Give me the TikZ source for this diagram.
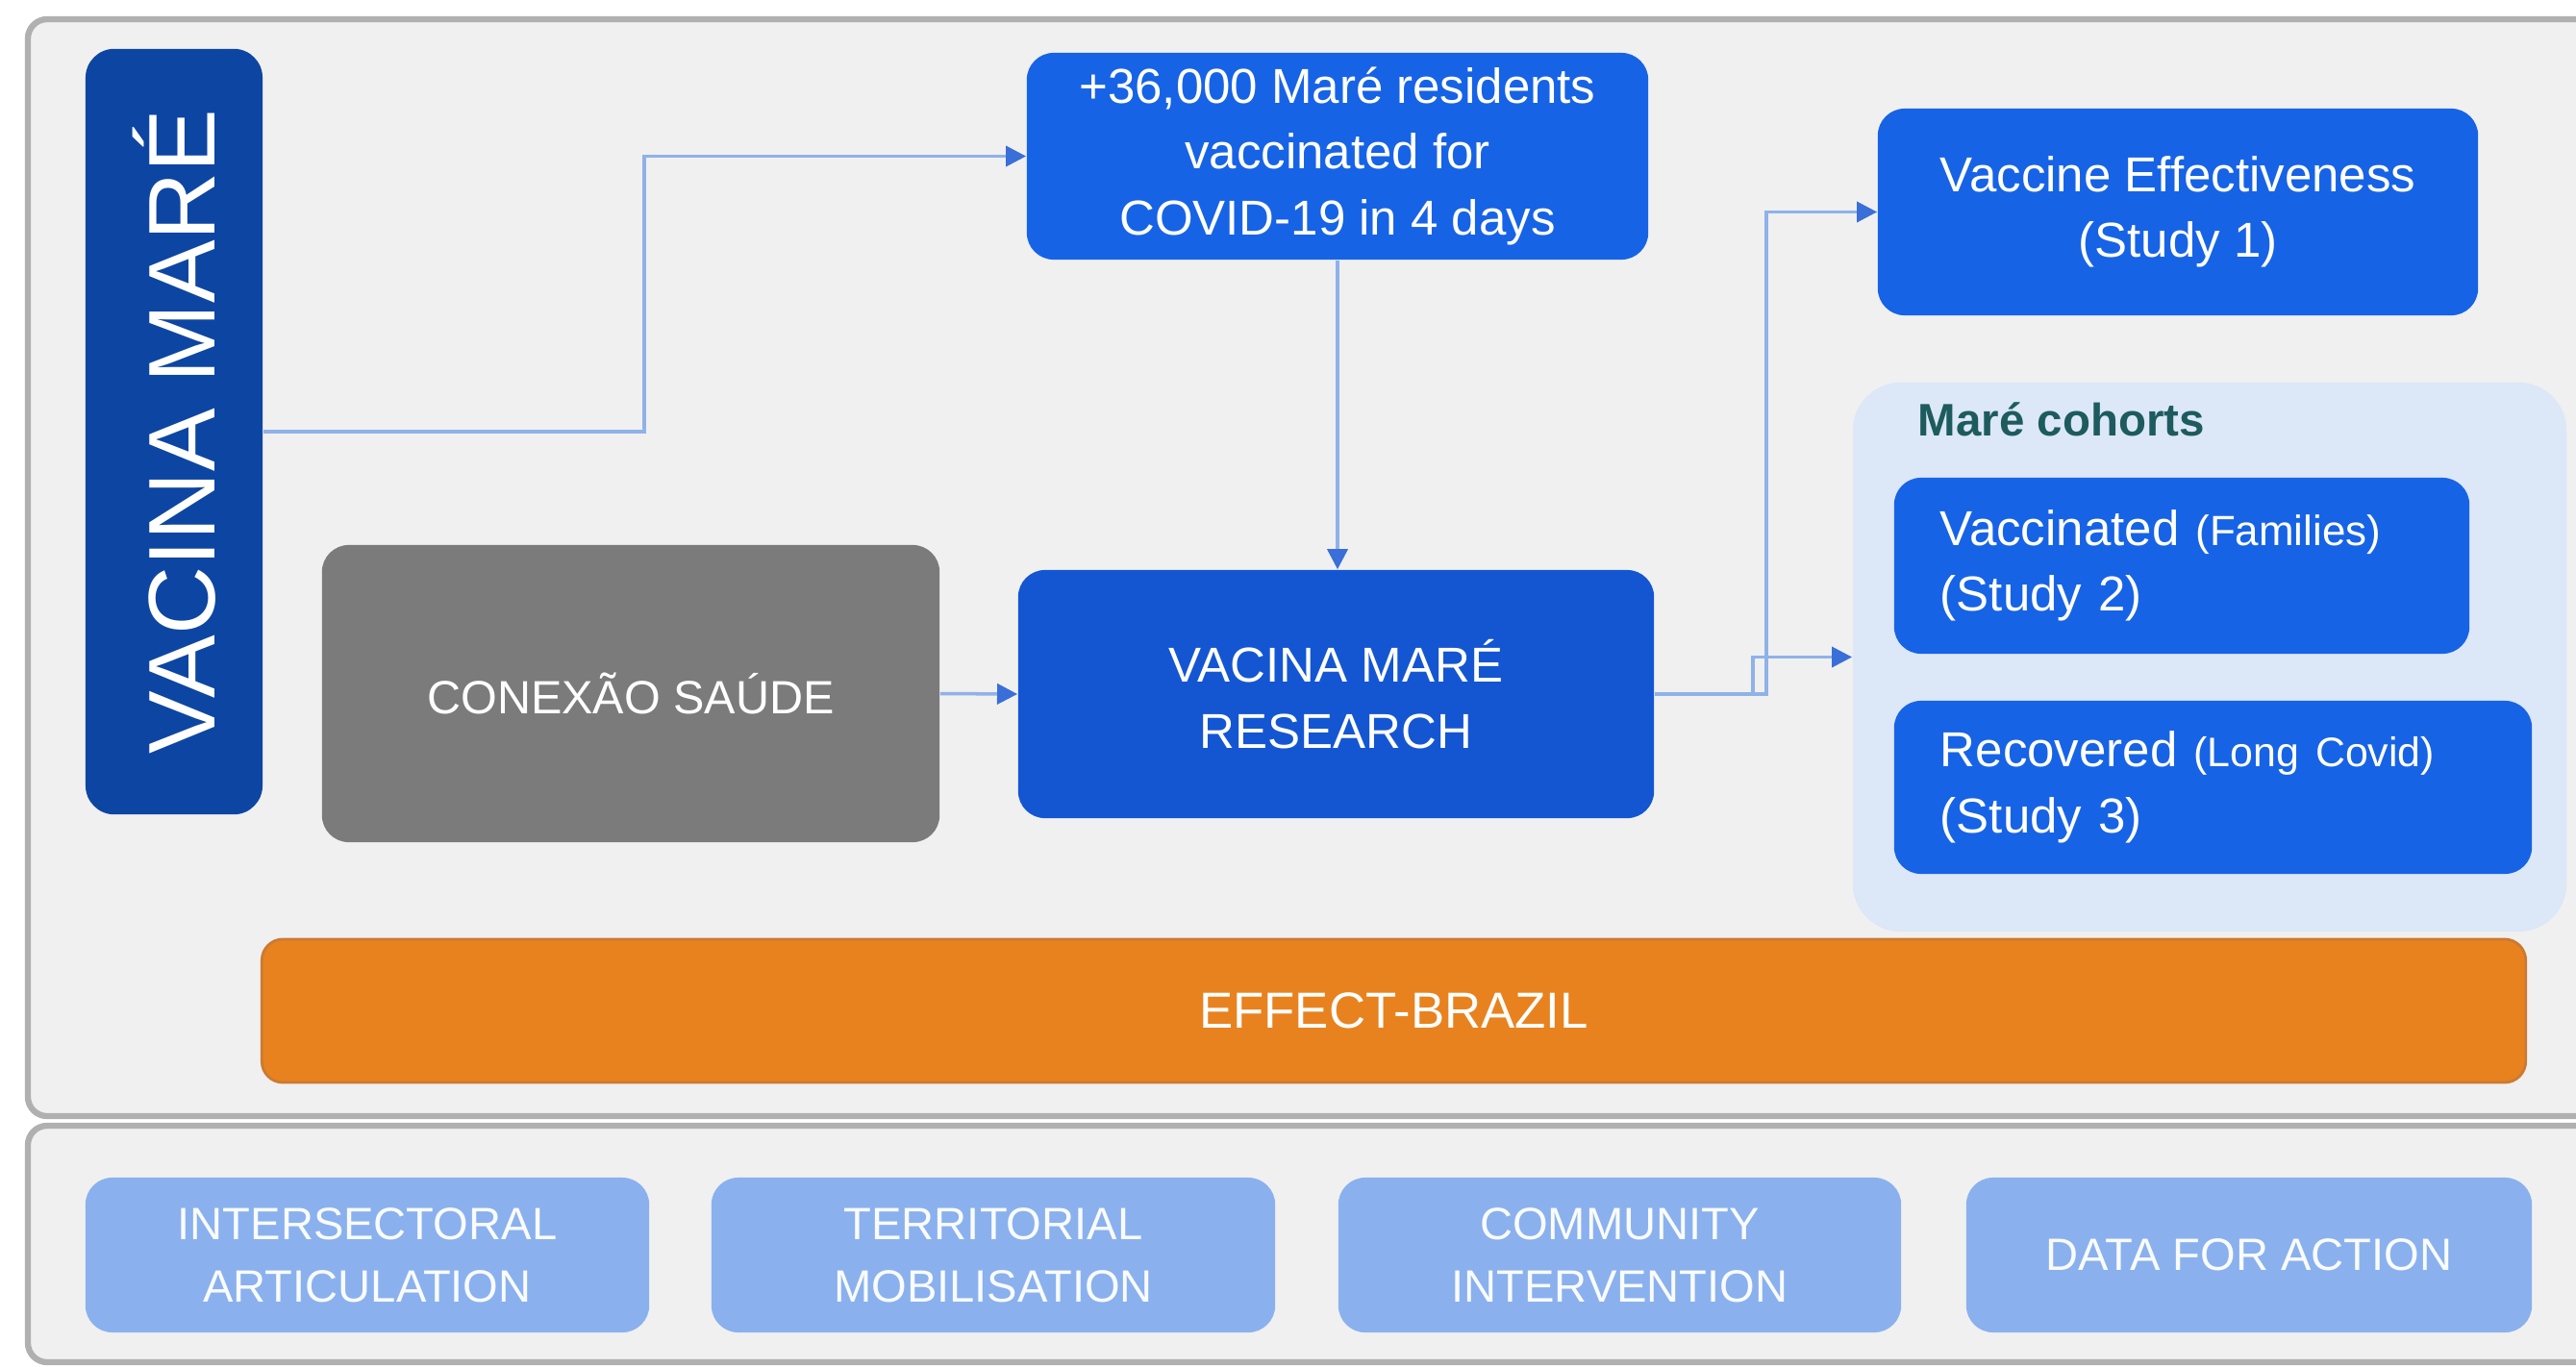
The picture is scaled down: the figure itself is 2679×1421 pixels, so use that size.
\documentclass[tikz,border=0pt]{standalone}
\usepackage{fontspec}
\setmainfont{Liberation Sans}
\usetikzlibrary{arrows.meta,calc}
\definecolor{panelbg}{HTML}{F0F0F0}
\definecolor{panelbd}{HTML}{B0B0B0}
\definecolor{vmblue}{HTML}{0D46A2}
\definecolor{bblue}{HTML}{1763E6}
\definecolor{rblue}{HTML}{1456D2}
\definecolor{cgray}{HTML}{7B7B7B}
\definecolor{orng}{HTML}{E8821F}
\definecolor{orngdk}{HTML}{CC7A33}
\definecolor{lblue}{HTML}{8AB1EE}
\definecolor{cohortbg}{HTML}{DCE7F7}
\definecolor{cohortteal}{HTML}{1D5B5E}
\definecolor{linec}{HTML}{8FB2E8}
\definecolor{tipc}{HTML}{3A6ED8}
\tikzset{
  box/.style={rounded corners=0.28cm, text=white, align=center, inner sep=0pt,
    font=\fontsize{14.5}{19.5}\selectfont},
  lbox/.style={box, align=left, inner xsep=0.48cm},
  botbox/.style={box, fill=lblue, minimum height=1.61cm, text=white!95!lblue,
    font=\fontsize{13.4}{18.5}\selectfont},
  conn/.style={draw=linec, line width=1pt, -{Triangle[length=6pt,width=6pt,color=tipc]}},
}
\begin{document}
\begin{tikzpicture}[x=0.01cm,y=-0.01cm]
\useasboundingbox (0,0) rectangle (2679,1421);
\clip (0,0) rectangle (2679,1421);
\fill[white] (0,0) rectangle (2679,1421);
% panels
\draw[panelbd, fill=panelbg, line width=1.8pt, rounded corners=0.2cm] (29,20) rectangle (2730,1161);
\draw[panelbd, fill=panelbg, line width=1.8pt, rounded corners=0.2cm] (29,1171) rectangle (2730,1417);
% cohort container
\node[fill=cohortbg, rounded corners=0.5cm, minimum width=7.42cm, minimum height=5.71cm, inner sep=0pt] (cohorts) at (2298,683.5) {};
\node[anchor=west, text=cohortteal, font=\bfseries\fontsize{13.5}{16}\selectfont, inner sep=0pt] (cohlbl) at (1994,436) {Maré cohorts};
% main nodes
\node[box, fill=vmblue, rounded corners=0.3cm, minimum width=1.84cm, minimum height=7.96cm] (vm) at (181,449)
  {\rotatebox{90}{\fontsize{28}{30}\selectfont VACINA MARÉ}};
\node[box, fill=bblue, minimum width=6.46cm, minimum height=2.15cm] (boxA) at (1391,162.5)
  {+36,000 Maré residents\\vaccinated for\\COVID-19 in 4 days};
\node[box, fill=bblue, minimum width=6.24cm, minimum height=2.15cm] (ve) at (2265,220.5)
  {Vaccine Effectiveness\\(Study 1)};
\node[lbox, fill=bblue, minimum width=5.98cm, text width=5.02cm, minimum height=1.83cm] (vac) at (2269,588.5)
  {Vaccinated {\fontsize{12.5}{19.5}\selectfont(Families)}\\(Study 2)};
\node[lbox, fill=bblue, minimum width=6.63cm, text width=5.67cm, minimum height=1.80cm] (rec) at (2301.5,819)
  {Recovered {\fontsize{12.2}{19.5}\selectfont(Long Covid)}\\(Study 3)};
\node[box, fill=cgray, minimum width=6.42cm, minimum height=3.09cm, font=\fontsize{13.8}{18}\selectfont] (conex) at (656,721.5)
  {CONEXÃO SAÚDE};
\node[box, fill=rblue, minimum width=6.61cm, minimum height=2.58cm] (research) at (1389.5,722)
  {VACINA MARÉ\\RESEARCH};
\node[box, fill=orng, draw=orngdk, line width=0.8pt, rounded corners=0.22cm, minimum width=23.53cm, minimum height=1.49cm, font=\fontsize{15}{18}\selectfont] (effect) at (1449.5,1051.5)
  {EFFECT-BRAZIL};
% bottom boxes
\node[botbox, minimum width=5.86cm] (b1) at (382,1305.5) {INTERSECTORAL\\ARTICULATION};
\node[botbox, minimum width=5.86cm] (b2) at (1033,1305.5) {TERRITORIAL\\MOBILISATION};
\node[botbox, minimum width=5.85cm] (b3) at (1684.5,1305.5) {COMMUNITY\\INTERVENTION};
\node[botbox, minimum width=5.88cm] (b4) at (2339,1305.5) {DATA FOR ACTION};
% connectors
\coordinate (k1) at (670,449);
\coordinate (k2) at (1837,722);
\coordinate (k3) at (1823,722);
\draw[conn] (vm.east) -- (k1) |- (boxA.west);
\draw[conn] (boxA.south) -- (boxA.south |- research.north);
\draw[conn] (conex.east) -- (research.west);
\draw[conn] (research.east) -- (k2) |- (ve.west);
\draw[conn] (research.east) -- (k3) |- (cohorts.west);
\end{tikzpicture}
\end{document}
